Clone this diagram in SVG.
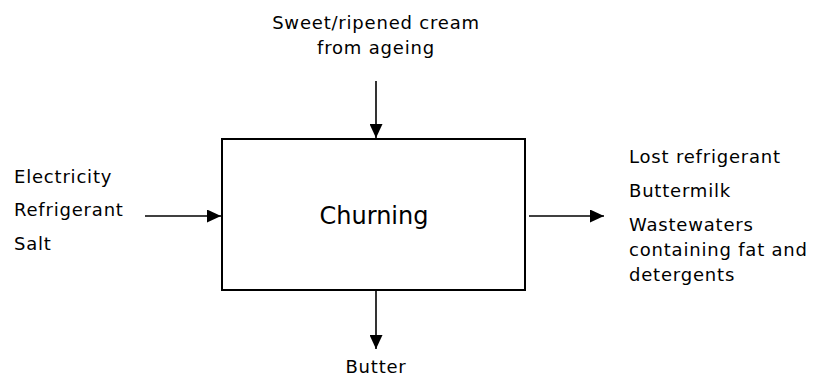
<svg xmlns="http://www.w3.org/2000/svg" width="816" height="378" viewBox="0 0 816 378">
  <defs>
    <marker id="arrow" markerUnits="userSpaceOnUse" markerWidth="14" markerHeight="13" refX="14" refY="6.5" orient="auto">
      <path d="M0,0 L14,6.5 L0,13 Z" fill="#000"/>
    </marker>
  </defs>
  <style>
    .lbl { font-family: "DejaVu Sans", "Liberation Sans", sans-serif; font-size: 18px; letter-spacing: 0.8px; fill: #000; }
    .mid { text-anchor: middle; }
    .box { fill: #fff; stroke: #000; stroke-width: 2; }
    .title { font-family: "DejaVu Sans", "Liberation Sans", sans-serif; font-size: 24px; fill: #000; text-anchor: middle; }
    .conn { stroke: #000; stroke-width: 1.6; fill: none; marker-end: url(#arrow); }
  </style>
  <rect width="816" height="378" fill="#fff"/>

  <g id="churning">
    <rect class="box" x="222" y="139" width="303" height="151"/>
    <text class="title" x="374" y="224">Churning</text>
  </g>

  <g id="input-top">
    <text class="lbl mid" x="376" y="28.5">Sweet/ripened cream</text>
    <text class="lbl mid" x="376" y="53.5">from ageing</text>
  </g>

  <g id="input-left">
    <text class="lbl" x="14" y="182.7">Electricity</text>
    <text class="lbl" x="14" y="216">Refrigerant</text>
    <text class="lbl" x="14" y="249.5">Salt</text>
  </g>

  <g id="output-right">
    <text class="lbl" x="629" y="163.3">Lost refrigerant</text>
    <text class="lbl" x="629" y="197">Buttermilk</text>
    <text class="lbl" x="629" y="230.7">Wastewaters</text>
    <text class="lbl" x="629" y="255.7">containing fat and</text>
    <text class="lbl" x="629" y="281">detergents</text>
  </g>

  <g id="output-bottom">
    <text class="lbl mid" x="376" y="373.3">Butter</text>
  </g>

  <g id="connectors">
    <line class="conn" x1="376" y1="81" x2="376" y2="138"/>
    <line class="conn" x1="145" y1="216" x2="221" y2="216"/>
    <line class="conn" x1="529" y1="216" x2="604" y2="216"/>
    <line class="conn" x1="376" y1="291" x2="376" y2="349"/>
  </g>
</svg>
